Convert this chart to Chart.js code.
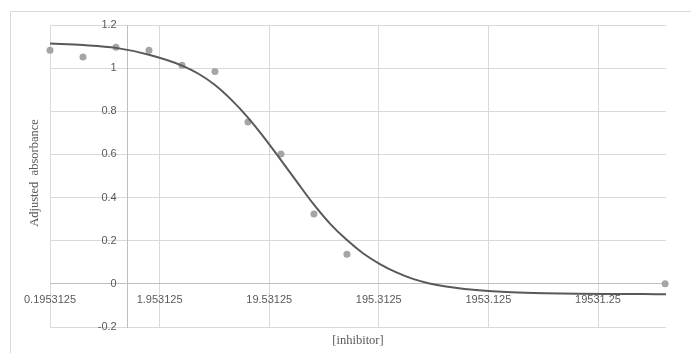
<!DOCTYPE html>
<html>
<head>
<meta charset="utf-8">
<script src="https://cdn.jsdelivr.net/npm/chart.js@4/dist/chart.umd.min.js"></script>
<style>
  html, body { margin: 0; padding: 0; background: #ffffff; }
  #wrap { position: relative; width: 691px; height: 353px; overflow: hidden; }
  #frame { position: absolute; left: 10px; top: 11px; width: 700px; height: 360px;
           border-left: 1px solid #d9d9d9; border-top: 1px solid #d9d9d9; }
  #chart { position: absolute; left: 0; top: 0; }
</style>
</head>
<body>
<div id="wrap">
  <div id="frame"></div>
  <canvas id="chart" width="691" height="353"></canvas>
</div>
<script>
// Measured absorbance for each inhibitor concentration
const concentrations = [0.1953125, 0.390625, 0.78125, 1.5625, 3.125, 6.25, 12.5, 25, 50, 100, 80000];
const absorbance = [1.083, 1.052, 1.097, 1.083, 1.013, 0.984, 0.750, 0.602, 0.324, 0.137, 0.000];

// Dose-response fit curve
const fitConcentrations = [0.1953125, 0.390625, 0.78125, 1.5625, 3.125, 4.42, 6.25, 8.84, 12.5, 17.7, 25, 35.4, 50, 70.7, 100, 141, 200, 283, 400, 566, 800, 1600, 3200, 6400, 12800, 25600, 51200, 81500];
const fitAbsorbance = [1.114, 1.107, 1.094, 1.062, 1.012, 0.974, 0.922, 0.853, 0.771, 0.676, 0.574, 0.469, 0.367, 0.277, 0.203, 0.141, 0.092, 0.053, 0.023, 0.002, -0.012, -0.030, -0.039, -0.0435, -0.0458, -0.0469, -0.0475, -0.0477];

// Axis ticks
const xTickValues = [0.1953125, 1.953125, 19.53125, 195.3125, 1953.125, 19531.25];
const xTickLabels = ['0.1953125', '1.953125', '19.53125', '195.3125', '1953.125', '19531.25'];
const yTickValues = [-0.2, 0, 0.2, 0.4, 0.6, 0.8, 1, 1.2];
const yTickLabels = ['-0.2', '0', '0.2', '0.4', '0.6', '0.8', '1', '1.2'];

const xTitle = '[inhibitor]';
const yTitle = 'Adjusted  absorbance';

const tickFont = { family: '"Liberation Sans", Arial, sans-serif', size: 11 };
const tickColor = '#595959';
const gridColor = '#d9d9d9';
const axisColor = '#bfbfbf';
const yLabelGap = 11;

// The value axis crosses the category axis at x = 1; keep its labels a little left of the line
const shiftYLabels = {
  id: 'shiftYLabels',
  beforeDraw(chart) {
    const items = chart.scales.y.getLabelItems();
    if (items._shifted) return;
    items.forEach(item => { item.options.translation[0] -= yLabelGap; });
    items._shifted = true;
  }
};

const axisTitles = {
  id: 'axisTitles',
  afterDraw(chart) {
    const { ctx, chartArea } = chart;
    ctx.save();
    ctx.fillStyle = '#595959';
    ctx.font = '12.5px "Liberation Serif", "Times New Roman", serif';
    ctx.textAlign = 'center';
    ctx.textBaseline = 'middle';
    ctx.fillText(xTitle, (chartArea.left + chartArea.right) / 2, chartArea.bottom + 14);
    ctx.translate(chartArea.left - 15, (chartArea.top + chartArea.bottom) / 2 - 3);
    ctx.rotate(-Math.PI / 2);
    ctx.fillText(yTitle, 0, 0);
    ctx.restore();
  }
};

new Chart(document.getElementById('chart'), {
  type: 'scatter',
  data: {
    datasets: [
      {
        label: 'Fit',
        data: fitConcentrations.map((c, i) => ({ x: c, y: fitAbsorbance[i] })),
        showLine: true,
        borderColor: '#595959',
        borderWidth: 2,
        pointRadius: 0,
        cubicInterpolationMode: 'monotone',
        fill: false
      },
      {
        label: 'Adjusted absorbance',
        data: concentrations.map((c, i) => ({ x: c, y: absorbance[i] })),
        showLine: false,
        backgroundColor: '#a5a5a5',
        borderWidth: 0,
        pointRadius: 3.5,
        clip: false
      }
    ]
  },
  options: {
    responsive: false,
    animation: false,
    layout: { padding: { left: 50, top: 25, right: 25, bottom: 26 } },
    plugins: { legend: { display: false }, tooltip: { enabled: false } },
    scales: {
      x: {
        type: 'logarithmic',
        position: { y: 0 },
        min: 0.1953125,
        max: 81500,
        bounds: 'data',
        afterBuildTicks: (scale) => { scale.ticks = xTickValues.map(v => ({ value: v })); },
        afterFit: (scale) => { scale.height = 0; },
        ticks: {
          autoSkip: false,
          maxRotation: 0,
          padding: 10,
          color: tickColor,
          font: tickFont,
          callback: (value, index) => xTickLabels[index]
        },
        grid: { color: gridColor, lineWidth: 1, drawTicks: false },
        border: { display: true, color: axisColor, width: 1 }
      },
      y: {
        type: 'linear',
        position: { x: 1 },
        min: -0.2,
        max: 1.2,
        afterBuildTicks: (scale) => { scale.ticks = yTickValues.map(v => ({ value: v })); },
        afterFit: (scale) => { scale.width = 0; },
        ticks: {
          color: tickColor,
          font: tickFont,
          callback: (value, index) => yTickLabels[index]
        },
        grid: { color: gridColor, lineWidth: 1, drawTicks: false },
        border: { display: true, color: axisColor, width: 1 }
      }
    }
  },
  plugins: [shiftYLabels, axisTitles]
});
</script>
</body>
</html>
